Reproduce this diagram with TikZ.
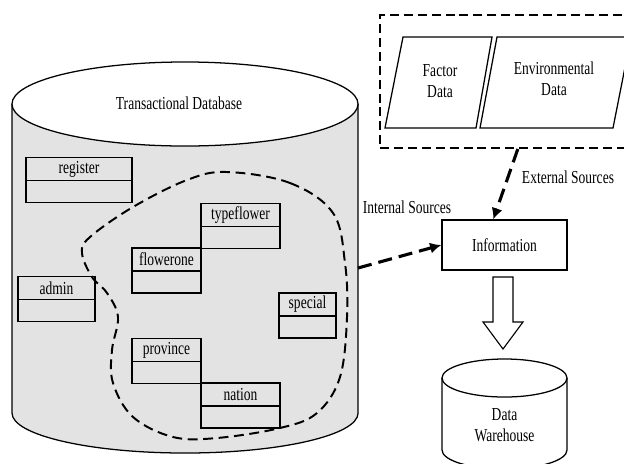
\documentclass[tikz,border=0pt]{standalone}
\usepackage{fontspec}
\setmainfont[FakeStretch=0.74]{Liberation Serif}
\usepackage{tikz}
\usetikzlibrary{positioning,arrows.meta}
\definecolor{dbfill}{HTML}{E3E3E3}

\tikzset{
  classhead/.style={draw, line width=0.8pt, inner sep=0pt, outer sep=0pt, minimum height=0.575cm},
  classbody/.style={draw, line width=0.8pt, inner sep=0pt, outer sep=0pt, minimum height=0.55cm},
  flowline/.style={line width=2.2pt, dash pattern=on 10pt off 5pt, -{Latex[length=8pt,width=8pt]}},
}

\begin{document}
\begin{tikzpicture}[x=0.025cm, y=-0.025cm, font=\fontsize{13}{15}\selectfont]
    \useasboundingbox (0,0) rectangle (624,463);
    \clip (0,0) rectangle (624,463);

    % transactional database
    \fill[dbfill] (12,104) -- (12,413)
    arc[start angle=180, end angle=360, x radius=4.325cm, y radius=1cm]
    -- (358,104) -- cycle;
    \draw[line width=0.9pt] (12,104) -- (12,413)
    arc[start angle=180, end angle=360, x radius=4.325cm, y radius=1cm]
    -- (358,104);
    \filldraw[line width=0.9pt, fill=white] (185,104) ellipse[x radius=4.325cm, y radius=1.05cm];
    \node (tdb) at (179,103) {Transactional Database};
    \coordinate (tdbside) at (358,268);

    \path
    (79,169) node[classhead, minimum width=2.65cm] (register) {register}
    (240.5,215) node[classhead, minimum width=1.975cm] (typeflower) {typeflower}
    (166.5,259.5) node[classhead, minimum width=1.725cm] (flowerone) {flowerone}
    (56.5,288) node[classhead, minimum width=1.925cm] (admin) {admin}
    (307.5,304.5) node[classhead, minimum width=1.425cm] (special) {special}
    (166.5,350) node[classhead, minimum width=1.725cm] (province) {province}
    (240.5,394.5) node[classhead, minimum width=1.975cm] (nation) {nation}
    ;
    \path
    node[classbody, minimum width=2.65cm, below=0pt of register] (registerbody) {}
    node[classbody, minimum width=1.975cm, below=0pt of typeflower] (typeflowerbody) {}
    node[classbody, minimum width=1.725cm, below=0pt of flowerone] (floweronebody) {}
    node[classbody, minimum width=1.925cm, below=0pt of admin] (adminbody) {}
    node[classbody, minimum width=1.425cm, below=0pt of special] (specialbody) {}
    node[classbody, minimum width=1.725cm, below=0pt of province] (provincebody) {}
    node[classbody, minimum width=1.975cm, below=0pt of nation] (nationbody) {}
    ;

    % tables taken for the warehouse
    \draw[line width=1.4pt, dash pattern=on 7pt off 4pt]
    plot[smooth cycle, tension=0.6] coordinates {
      (227,172) (290,183) (333,213) (345,263) (347,317) (340,377) (317,413)
      (280,428) (217,438) (173,437) (133,417) (113,383) (112,350) (118,317)
      (107,293) (92,277) (82,253) (90,237) (133,207) (187,180)};

    % external sources
    \node[draw, line width=1.4pt, dash pattern=on 6.4pt off 3.5pt, inner sep=0pt,
      minimum width=6.75cm, minimum height=3.325cm] (extsrc) at (515,81.5) {};
    \draw[line width=0.9pt] (403,37) -- (492,37) -- (476,128) -- (385,128) -- cycle;
    \draw[line width=0.9pt] (497,37) -- (631,37) -- (613,128) -- (480,128) -- cycle;
    \node[align=center] (factor) at (440,81) {Factor\\Data};
    \node[align=center] (environ) at (554,79) {Environmental\\Data};

    \node[draw, line width=0.9pt, minimum width=3.125cm, minimum height=1.25cm] (info) at (504.5,245) {Information};

    \draw[flowline] (tdbside) -- (info.west);
    \draw[flowline] ([xshift=2pt]extsrc.south) -- ([xshift=-8pt]info.north);
    \node (intlabel) at (407,207) {Internal Sources};
    \node (extlabel) at (568,177) {External Sources};

    % hollow arrow down to the warehouse
    \draw[line width=0.8pt] (493,277) -- (513,277) -- (513,322) -- (523,322)
    -- (503,349) -- (483,322) -- (493,322) -- cycle;

    % data warehouse
    \draw[line width=0.9pt, fill=white] (442,378) -- (442,450)
    arc[start angle=180, end angle=360, x radius=1.5625cm, y radius=0.475cm]
    -- (567,378);
    \draw[line width=0.9pt] (504.5,378) ellipse[x radius=1.5625cm, y radius=0.475cm];
    \node[align=center] (dw) at (504.5,425) {Data\\Warehouse};
  \end{tikzpicture}
\end{document}
